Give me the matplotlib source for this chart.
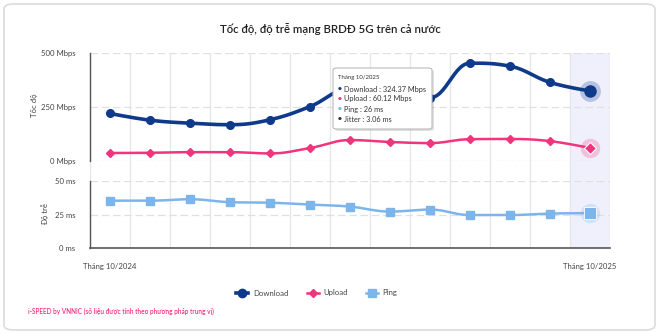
import numpy as np
import matplotlib
matplotlib.use("Agg")
import matplotlib.pyplot as plt
from matplotlib.patches import FancyBboxPatch
from matplotlib.lines import Line2D

plt.rcParams['font.family'] = ['Lato', 'DejaVu Sans']

# ---------------- data ----------------
months = ["Tháng 10/2024", "Tháng 11/2024", "Tháng 12/2024", "Tháng 1/2025", "Tháng 2/2025",
          "Tháng 3/2025", "Tháng 4/2025", "Tháng 5/2025", "Tháng 6/2025", "Tháng 7/2025",
          "Tháng 8/2025", "Tháng 9/2025", "Tháng 10/2025"]
download = [220, 189, 175, 168, 191, 252, 335, 310, 293, 453, 439, 364, 324.37]
upload = [37, 38, 41, 41, 35, 60, 97, 88, 83, 101, 102, 92, 60.12]
ping = [35.3, 35.3, 36.4, 34.2, 33.8, 32.4, 30.9, 27.2, 28.7, 24.6, 24.6, 25.7, 26]
speed_ticks = [0, 250, 500]
speed_tick_labels = ["0 Mbps", "250 Mbps", "500 Mbps"]
lat_ticks = [0, 25, 50]
lat_tick_labels = ["0 ms", "25 ms", "50 ms"]
tooltip_title = "Tháng 10/2025"
tooltip_lines = ["Download : 324.37 Mbps", "Upload : 60.12 Mbps", "Ping : 26 ms", "Jitter : 3.06 ms"]

C_DL = "#0f3a8c"
C_UL = "#f0347e"
C_PING = "#7cb5ec"
C_JIT = "#333333"
C_TXT = "#444444"


def hc_spline(y, smoothing=1.5, steps=30):
    y = np.asarray(y, float)
    n = len(y)
    x = np.arange(n, dtype=float)
    left = [(x[i], y[i]) for i in range(n)]
    right = [(x[i], y[i]) for i in range(n)]
    for i in range(1, n - 1):
        lx, ly, nx, ny = x[i - 1], y[i - 1], x[i + 1], y[i + 1]
        d = smoothing + 1
        lcx = (smoothing * x[i] + lx) / d
        lcy = (smoothing * y[i] + ly) / d
        rcx = (smoothing * x[i] + nx) / d
        rcy = (smoothing * y[i] + ny) / d
        if rcx != lcx:
            corr = ((rcy - lcy) * (rcx - x[i])) / (rcx - lcx) + y[i] - rcy
            lcy += corr
            rcy += corr
        if lcy > ly and lcy > y[i]:
            lcy = max(ly, y[i]); rcy = 2 * y[i] - lcy
        elif lcy < ly and lcy < y[i]:
            lcy = min(ly, y[i]); rcy = 2 * y[i] - lcy
        if rcy > ny and rcy > y[i]:
            rcy = max(ny, y[i]); lcy = 2 * y[i] - rcy
        elif rcy < ny and rcy < y[i]:
            rcy = min(ny, y[i]); lcy = 2 * y[i] - rcy
        left[i] = (lcx, lcy)
        right[i] = (rcx, rcy)
    xs, ys = [], []
    t = np.linspace(0, 1, steps)
    for i in range(1, n):
        p0 = np.array([x[i - 1], y[i - 1]])
        p1 = np.array(right[i - 1])
        p2 = np.array(left[i])
        p3 = np.array([x[i], y[i]])
        b = ((1 - t) ** 3)[:, None] * p0 + (3 * (1 - t) ** 2 * t)[:, None] * p1 + \
            (3 * (1 - t) * t ** 2)[:, None] * p2 + (t ** 3)[:, None] * p3
        xs.extend(b[:, 0]); ys.extend(b[:, 1])
    return np.array(xs), np.array(ys)


W, H = 660, 334
fig = plt.figure(figsize=(W / 100, H / 100), dpi=100)
fig.patch.set_facecolor("white")


def fx(px):
    return px / W


def fy(py):
    return 1 - py / H


# card border
card = FancyBboxPatch((fx(4), fy(330)), fx(655) - fx(4), fy(4) - fy(330),
                      boxstyle="round,pad=0,rounding_size=0.015",
                      transform=fig.transFigure, facecolor="white",
                      edgecolor="#dcdcdc", linewidth=1.2, zorder=-5)
fig.patches.append(card)

n = len(months)
xl = (-0.5, n - 0.5)
L, R = 90, 610

# background axes for vertical grid and highlight band
bg = fig.add_axes([fx(L), fy(248), fx(R) - fx(L), fy(53) - fy(248)])
bg.set_zorder(0.5)
bg.set_xlim(*xl); bg.set_ylim(0, 1)
bg.axis("off")
bg.axvspan(n - 1.5, n - 0.5, color="#f0f0fd", zorder=0)
for k in range(n + 1):
    bg.axvline(k - 0.5, color="#e6e6e6", lw=0.9, zorder=1)

# top panel
ax1 = fig.add_axes([fx(L), fy(161), fx(R) - fx(L), fy(53) - fy(161)])
ax1.set_zorder(1)
ax1.patch.set_alpha(0)
ax1.set_xlim(*xl); ax1.set_ylim(0, 500)
for v in speed_ticks:
    ax1.axhline(v, color="#e0e0e0", lw=0.9, ls=(0, (6, 3)), zorder=1)
for s in ["top", "right", "bottom"]:
    ax1.spines[s].set_visible(False)
ax1.spines["left"].set_color("#555555"); ax1.spines["left"].set_linewidth(1.0)
ax1.set_xticks([])
ax1.set_yticks(speed_ticks)
ax1.set_yticklabels(speed_tick_labels)
ax1.tick_params(axis="y", length=0, pad=10.5, labelsize=5.6, labelcolor=C_TXT)

xs, ys = hc_spline(download)
ax1.plot(xs, ys, color=C_DL, lw=2.6, zorder=4, solid_capstyle="round")
ax1.plot(range(n - 1), download[:-1], 'o', color=C_DL, ms=5.5, zorder=5, clip_on=False)
ax1.plot([n - 1], [download[-1]], 'o', color=C_DL, ms=15, alpha=0.25, zorder=5, mec="none", clip_on=False)
ax1.plot([n - 1], [download[-1]], 'o', color=C_DL, ms=8, zorder=6, clip_on=False)

xs, ys = hc_spline(upload)
ax1.plot(xs, ys, color=C_UL, lw=1.8, zorder=4)
ax1.plot(range(n - 1), upload[:-1], 'D', color=C_UL, ms=3.6, zorder=5)
ax1.plot([n - 1], [upload[-1]], 'o', color=C_UL, ms=14, alpha=0.25, zorder=5, mec="none")
ax1.plot([n - 1], [upload[-1]], 'D', color=C_UL, ms=6, zorder=6, mec="white", mew=0.8)

# bottom panel
ax2 = fig.add_axes([fx(L), fy(248), fx(R) - fx(L), fy(181) - fy(248)])
ax2.set_zorder(1)
ax2.patch.set_alpha(0)
ax2.set_xlim(*xl); ax2.set_ylim(0, 50)
for v in lat_ticks[1:]:
    ax2.axhline(v, color="#e0e0e0", lw=0.9, ls=(0, (6, 3)), zorder=1)
for s in ["top", "right"]:
    ax2.spines[s].set_visible(False)
ax2.spines["left"].set_color("#555555"); ax2.spines["left"].set_linewidth(1.0)
ax2.spines["bottom"].set_color("#555555"); ax2.spines["bottom"].set_linewidth(1.2)
ax2.set_yticks(lat_ticks)
ax2.set_yticklabels(lat_tick_labels)
ax2.tick_params(axis="y", length=0, pad=10.5, labelsize=5.6, labelcolor=C_TXT)
ax2.set_xticks([0, n - 1])
ax2.set_xticklabels([months[0], months[-1]])
ax2.tick_params(axis="x", length=0, pad=10.5, labelsize=5.6, labelcolor=C_TXT)

xs, ys = hc_spline(ping)
ax2.plot(xs, ys, color=C_PING, lw=1.8, zorder=4)
ax2.plot(range(n - 1), ping[:-1], 's', color=C_PING, ms=6, zorder=5)
ax2.plot([n - 1], [ping[-1]], 'o', color=C_PING, ms=14, alpha=0.25, zorder=5, mec="none")
ax2.plot([n - 1], [ping[-1]], 's', color=C_PING, ms=8, zorder=6, mec="white", mew=0.6)

# axis titles
fig.text(fx(34), fy(105), "Tốc độ", rotation=90, ha="center", va="center", fontsize=5.6, color=C_TXT)
fig.text(fx(45), fy(214), "Độ trễ", rotation=90, ha="center", va="center", fontsize=5.6, color=C_TXT)

# title
fig.text(0.5, fy(29), "Tốc độ, độ trễ mạng BRDĐ 5G trên cả nước", ha="center", va="center",
         fontsize=8.2, color="#222222", fontweight="semibold")

# tooltip
tx0, ty0, tx1, ty1 = 333, 68, 432, 129
shadow = FancyBboxPatch((fx(tx0 + 2), fy(ty1 + 2)), fx(tx1) - fx(tx0), fy(ty0) - fy(ty1),
                        boxstyle="round,pad=0,rounding_size=0.006", transform=fig.transFigure,
                        facecolor="#000000", alpha=0.12, edgecolor="none", zorder=20)
fig.patches.append(shadow)
tip = FancyBboxPatch((fx(tx0), fy(ty1)), fx(tx1) - fx(tx0), fy(ty0) - fy(ty1),
                     boxstyle="round,pad=0,rounding_size=0.006", transform=fig.transFigure,
                     facecolor="white", edgecolor="#bbbbbb", linewidth=0.8, zorder=21)
fig.patches.append(tip)
fig.text(fx(338), fy(78), tooltip_title, fontsize=4.3, color="#333333", va="center", zorder=22)
bullet_colors = [C_DL, C_UL, C_PING, C_JIT]
for i, (t, c) in enumerate(zip(tooltip_lines, bullet_colors)):
    yy = fy(89 + i * 10)
    fig.text(fx(338), yy, "●", fontsize=3.2, color=c, va="center", zorder=22, family="DejaVu Sans")
    fig.text(fx(344), yy, t, fontsize=5.3, color="#333333", va="center", zorder=22)

# legend
handles = [
    Line2D([], [], color=C_DL, lw=2.6, marker='o', ms=6),
    Line2D([], [], color=C_UL, lw=1.8, marker='D', ms=3.8),
    Line2D([], [], color=C_PING, lw=1.8, marker='s', ms=6),
]
fig.legend(handles, ["Download", "Upload", "Ping"], loc="center", bbox_to_anchor=(fx(317), fy(293)),
           ncol=3, frameon=False, fontsize=5.6, handlelength=1.5, handletextpad=0.6,
           columnspacing=2.4, labelcolor=C_TXT)

# footer
fig.text(fx(28), fy(311), "i-SPEED by VNNIC (số liệu được tính theo phương pháp trung vị)",
         fontsize=4.7, color=C_UL, va="center", ha="left", fontweight="semibold")

fig.savefig("out.png", dpi=100, facecolor="white")
